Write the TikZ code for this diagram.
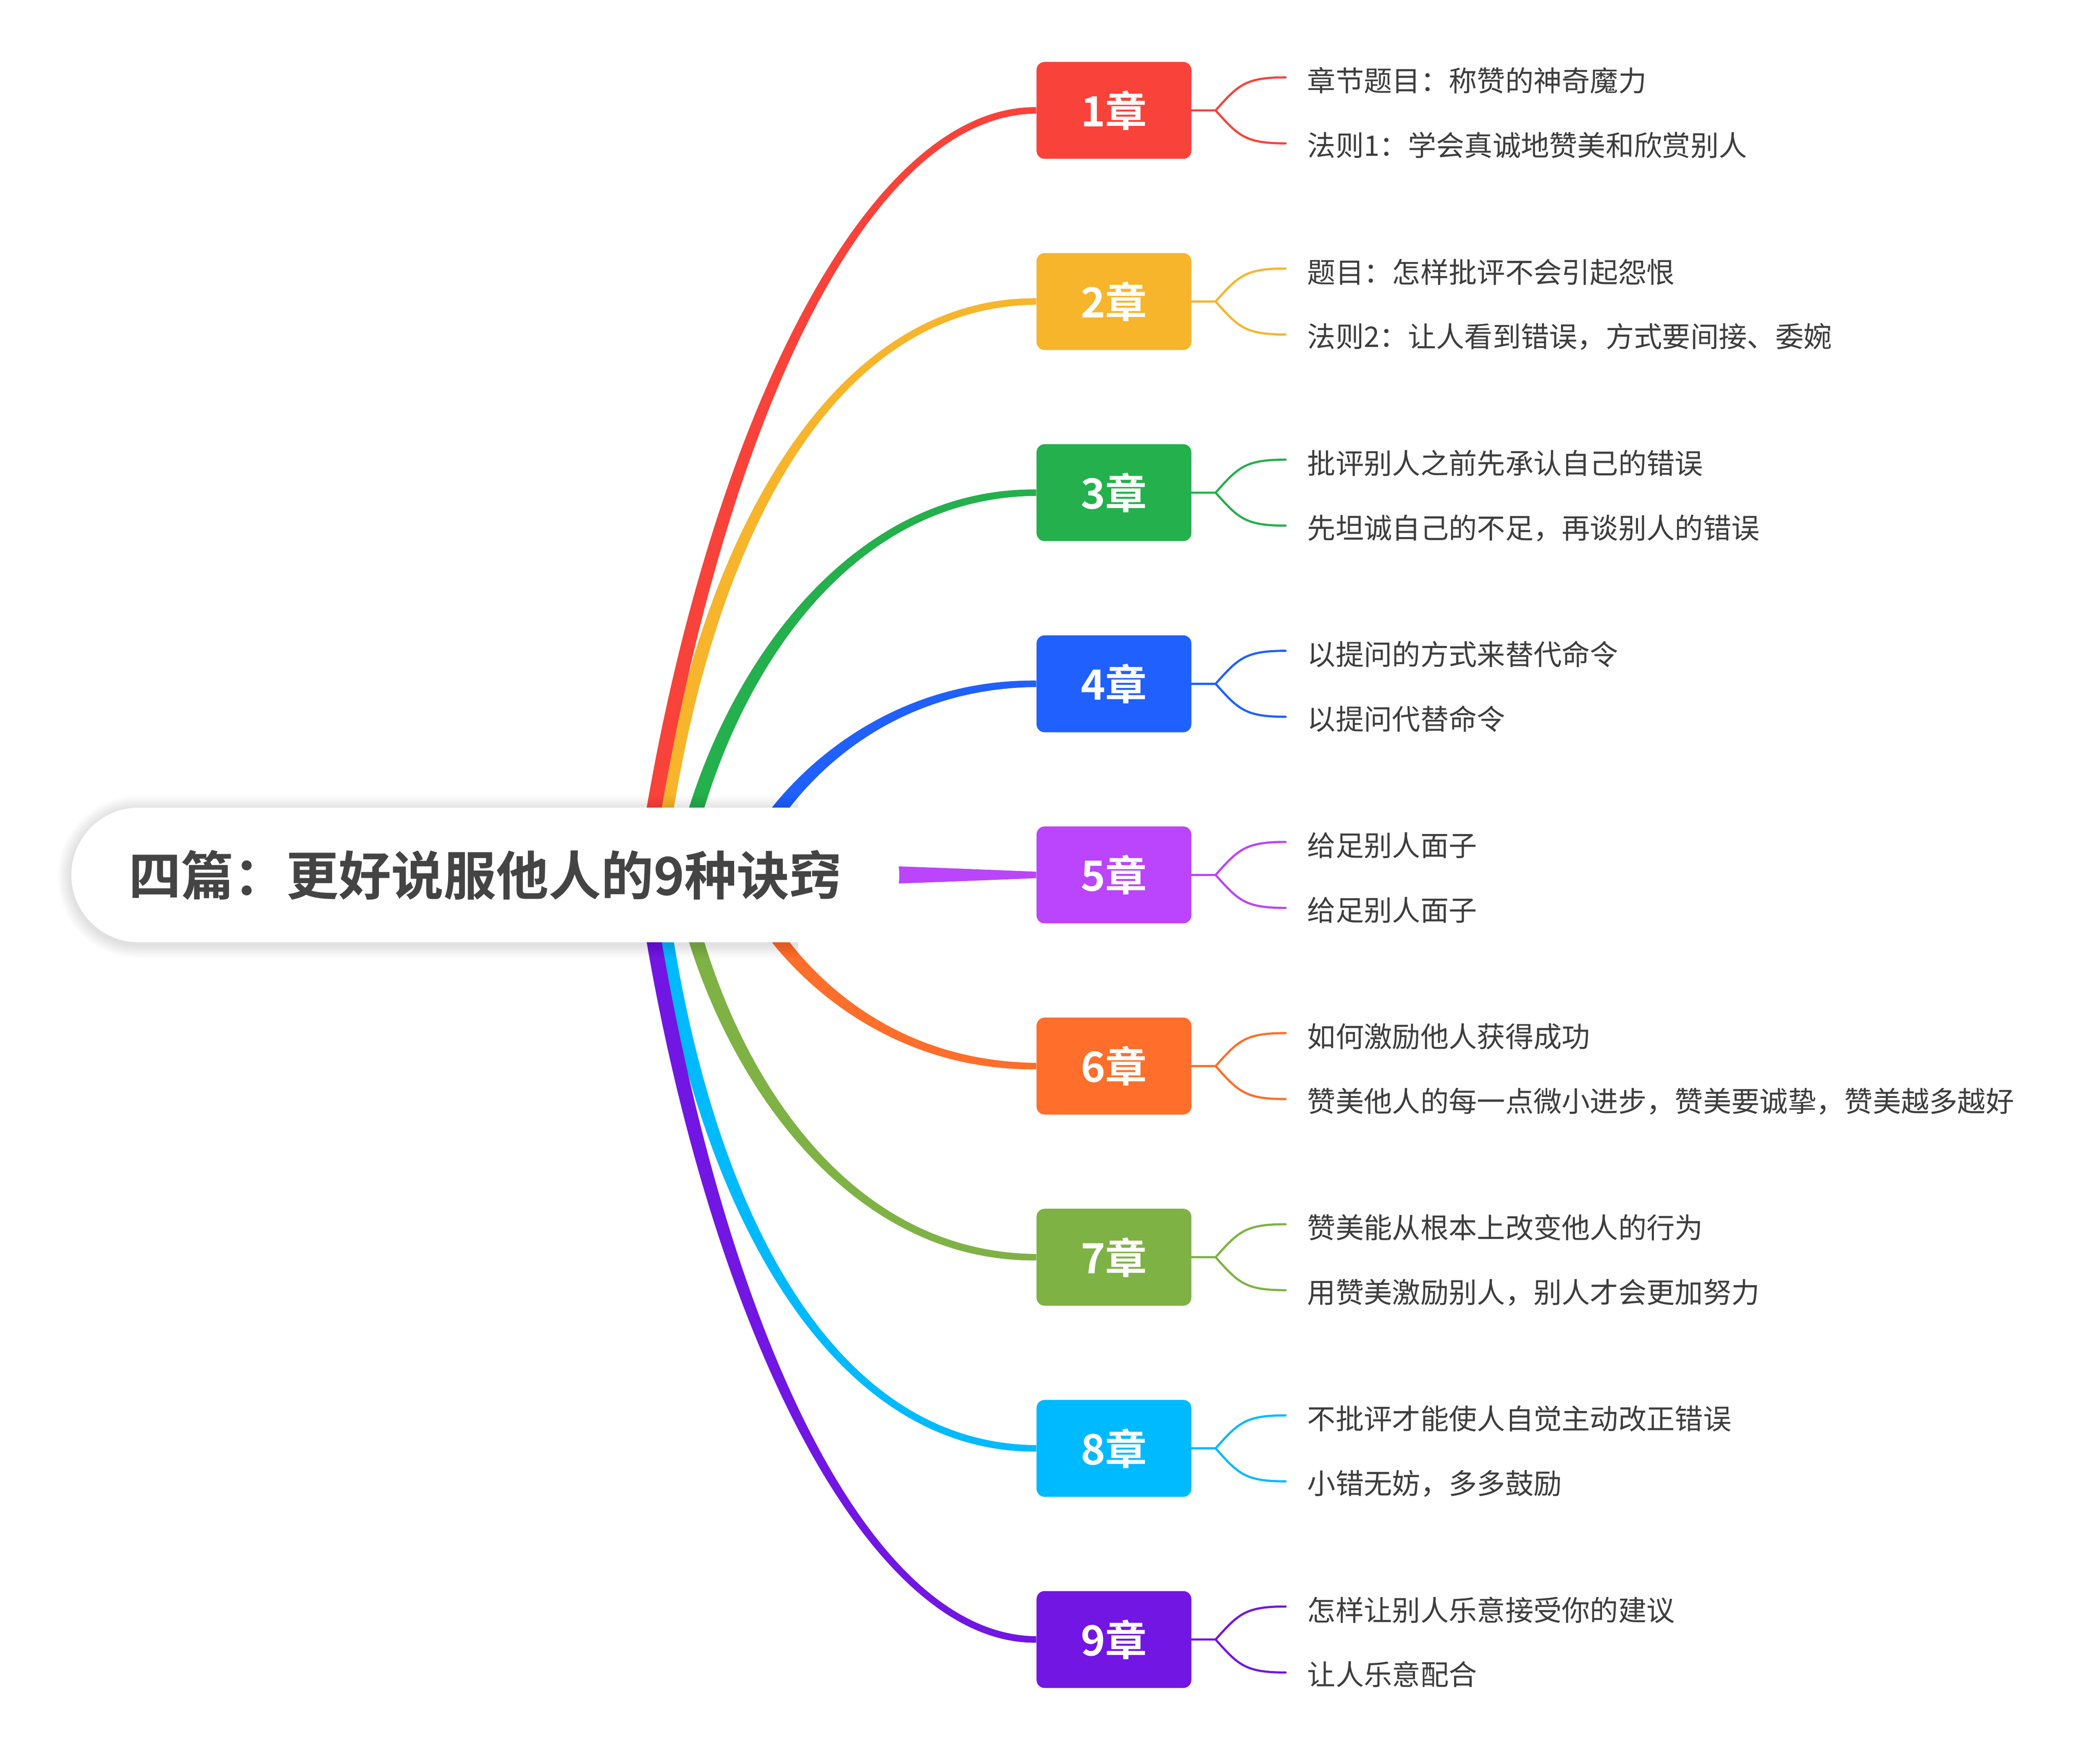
\documentclass[tikz,border=0pt]{standalone}
\usepackage{fontspec}
\newfontfamily\cjk{Noto Sans CJK SC}[BoldFont={Noto Sans CJK SC Bold}]
\usetikzlibrary{calc}
\definecolor{cA}{HTML}{F9423A}
\definecolor{cB}{HTML}{F7B52C}
\definecolor{cC}{HTML}{24B04C}
\definecolor{cD}{HTML}{1F60FF}
\definecolor{cE}{HTML}{BA45FC}
\definecolor{cF}{HTML}{FF6E2A}
\definecolor{cG}{HTML}{7FB244}
\definecolor{cH}{HTML}{00BAFF}
\definecolor{cI}{HTML}{7216E3}
\definecolor{txt}{HTML}{3D3D3D}
\definecolor{ttl}{HTML}{444444}
\pgfdeclarelayer{bg}
\pgfdeclarelayer{shad}
\pgfsetlayers{bg,shad,main}
% tapered branch: color, P0, P1, P2, P3, half width at P0, at P1, at P2, at P3
\newcommand\taper[9]{%
  \fill[#1] ($(#2)!#6!90:(#3)$) .. controls ($(#3)!#7!-90:(#2)$) and ($(#4)!#8!90:(#5)$) .. ($(#5)!#9!-90:(#4)$)
    -- ($(#5)!#9!90:(#4)$) .. controls ($(#4)!#8!-90:(#5)$) and ($(#3)!#7!90:(#2)$) .. ($(#2)!#6!-90:(#3)$) -- cycle;}
\begin{document}
\begin{tikzpicture}[x=1pt,y=-1pt,
  chap/.style={rectangle, rounded corners=6pt, minimum width=115pt, minimum height=72pt, inner sep=0pt,
    text=white, font=\cjk\bfseries\fontsize{31pt}{36pt}\selectfont},
  leafline/.style={line width=1.6pt, line cap=round},
  leaftext/.style={anchor=base west, inner sep=0pt, text=txt, font=\cjk\fontsize{21pt}{25pt}\selectfont},
  rootbox/.style={rectangle, rounded corners=50pt, minimum width=615pt, minimum height=100pt, inner sep=0pt,
    fill=white, text=ttl, font=\cjk\bfseries\fontsize{39pt}{44pt}\selectfont}]
\path[use as bounding box] (0,0) rectangle (1560,1300);
\begin{pgfonlayer}{bg}
\fill[white] (0,0) rectangle (1560,1300);
\end{pgfonlayer}

\node[rootbox] (root) at (360.5,650) {四篇：更好说服他人的9种诀窍};

\begin{pgfonlayer}{shad}
\begin{scope}
\clip (0,0) rectangle (593,1300);
\foreach \k in {1,...,10}{
  \fill[black, opacity=0.011, rounded corners=50pt+\k pt]
    ($(root.north west)+(-\k,-\k+1.5)$) rectangle ($(root.south east)+(\k,\k+1.5)$);
}
\end{scope}
\end{pgfonlayer}

\foreach \i/\col/\ta/\tb in {
  1/cA/{章节题目：称赞的神奇魔力}/{法则1：学会真诚地赞美和欣赏别人},
  2/cB/{题目：怎样批评不会引起怨恨}/{法则2：让人看到错误，方式要间接、委婉},
  3/cC/{批评别人之前先承认自己的错误}/{先坦诚自己的不足，再谈别人的错误},
  4/cD/{以提问的方式来替代命令}/{以提问代替命令},
  5/cE/{给足别人面子}/{给足别人面子},
  6/cF/{如何激励他人获得成功}/{赞美他人的每一点微小进步，赞美要诚挚，赞美越多越好},
  7/cG/{赞美能从根本上改变他人的行为}/{用赞美激励别人，别人才会更加努力},
  8/cH/{不批评才能使人自觉主动改正错误}/{小错无妨，多多鼓励},
  9/cI/{怎样让别人乐意接受你的建议}/{让人乐意配合}}{
  \pgfmathsetmacro\yc{82+142*(\i-1)}
  \node[chap, fill=\col] (c\i) at (827.5,\yc) {\i 章};
  \coordinate (j\i) at (903,\yc);
  \coordinate (u\i) at (955,\yc-24.5);
  \coordinate (d\i) at (955,\yc+24.5);
  \node[leaftext] (ta\i) at (971,\yc-14) {\ta};
  \node[leaftext] (tb\i) at (971,\yc+34) {\tb};
  \draw[leafline, \col] (c\i.east) -- (j\i) .. controls +(17,-19) and +(-30,0) .. (u\i);
  \draw[leafline, \col] (j\i) .. controls +(17,19) and +(-30,0) .. (d\i);
}

\begin{pgfonlayer}{bg}
\coordinate (s1) at (478,650); \coordinate (a1) at (525,330); \coordinate (b1) at (640,82);
\coordinate (s2) at (488,650); \coordinate (a2) at (515,420); \coordinate (b2) at (610,224);
\coordinate (s3) at (505,650); \coordinate (a3) at (530,520); \coordinate (b3) at (620,366);
\coordinate (s4) at (550,650); \coordinate (a4) at (575,590); \coordinate (b4) at (650,508);
\coordinate (s5) at (630,650); \coordinate (a5) at (670,650); \coordinate (b5) at (730,650);
\coordinate (s6) at (550,650); \coordinate (a6) at (575,710); \coordinate (b6) at (650,792);
\coordinate (s7) at (505,650); \coordinate (a7) at (530,780); \coordinate (b7) at (620,934);
\coordinate (s8) at (488,650); \coordinate (a8) at (515,880); \coordinate (b8) at (610,1076);
\coordinate (s9) at (478,650); \coordinate (a9) at (525,970); \coordinate (b9) at (640,1218);
\taper{cD}{s4}{a4}{b4}{c4.west}{6pt}{6pt}{3.6pt}{2.4pt}
\taper{cC}{s3}{a3}{b3}{c3.west}{5.5pt}{6pt}{3.6pt}{2.4pt}
\taper{cB}{s2}{a2}{b2}{c2.west}{5.5pt}{6pt}{3.6pt}{2.4pt}
\taper{cA}{s1}{a1}{b1}{c1.west}{5.5pt}{6pt}{3.6pt}{2.4pt}
\taper{cF}{s6}{a6}{b6}{c6.west}{6pt}{6pt}{3.6pt}{2.4pt}
\taper{cG}{s7}{a7}{b7}{c7.west}{5.5pt}{6pt}{3.6pt}{2.4pt}
\taper{cH}{s8}{a8}{b8}{c8.west}{5.5pt}{6pt}{3.6pt}{2.4pt}
\taper{cI}{s9}{a9}{b9}{c9.west}{5.5pt}{6pt}{3.6pt}{2.4pt}
\taper{cE}{s5}{a5}{b5}{c5.west}{7.5pt}{6.5pt}{4pt}{2.4pt}
\end{pgfonlayer}
\end{tikzpicture}
\end{document}
